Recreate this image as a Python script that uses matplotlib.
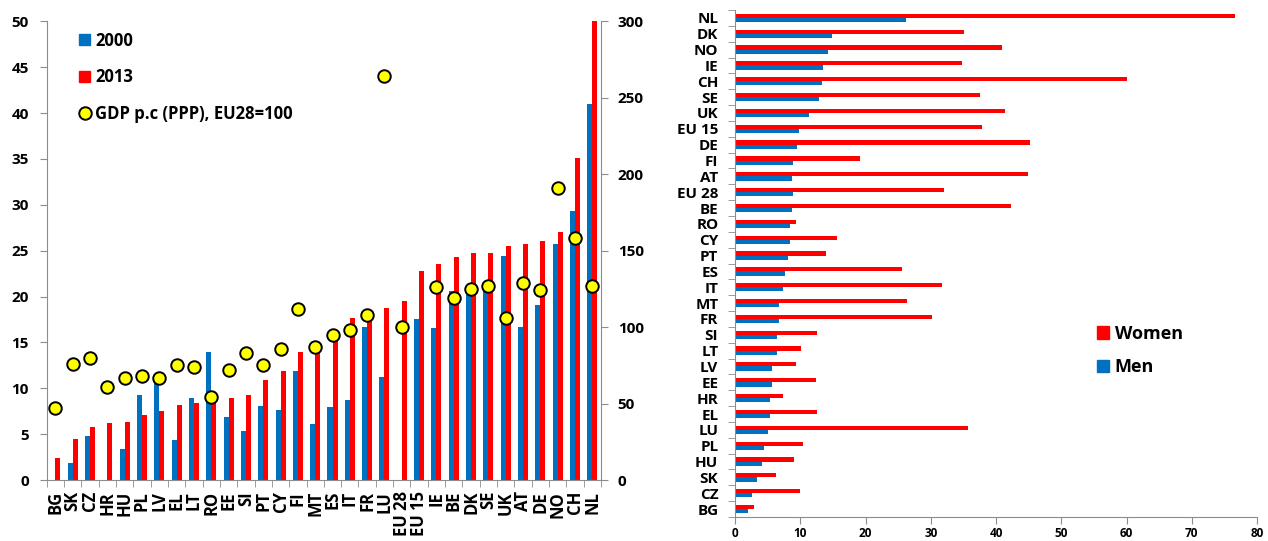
import numpy as np
import matplotlib
matplotlib.use("Agg")
import matplotlib.pyplot as plt
from matplotlib.patches import Patch
from matplotlib.lines import Line2D

plt.rcParams['font.family'] = ['Open Sans', 'DejaVu Sans']
plt.rcParams['font.weight'] = 'bold'

# ---- Left chart data ----
countries_left = ["BG", "SK", "CZ", "HR", "HU", "PL", "LV", "EL", "LT", "RO", "EE", "SI",
                  "PT", "CY", "FI", "MT", "ES", "IT", "FR", "LU", "EU 28", "EU 15", "IE",
                  "BE", "DK", "SE", "UK", "AT", "DE", "NO", "CH", "NL"]
values_2000 = [np.nan, 1.8, 4.8, np.nan, 3.4, 9.3, 10.7, 4.4, 8.9, 14.0, 6.9, 5.3,
               8.1, 7.6, 11.9, 6.1, 8.0, 8.7, 16.7, 11.2, np.nan, 17.5, 16.6,
               20.6, 21.0, 21.5, 24.4, 16.7, 19.1, 25.7, 29.3, 41.0]
values_2013 = [2.4, 4.5, 5.8, 6.2, 6.3, 7.1, 7.5, 8.2, 8.4, 8.7, 8.9, 9.3,
               10.9, 11.9, 14.0, 14.5, 15.6, 17.7, 17.9, 18.7, 19.5, 22.8, 23.5,
               24.3, 24.7, 24.7, 25.5, 25.7, 26.1, 27.0, 35.1, 50.0]
gdp_pc = [47, 76, 80, 61, 67, 68, 67, 75, 74, 54, 72, 83,
          75, 86, 112, 87, 95, 98, 108, 264, 100, np.nan, 126,
          119, 125, 127, 106, 129, 124, 191, 158, 127]

# ---- Right chart data (top to bottom) ----
countries_right = ["NL", "DK", "NO", "IE", "CH", "SE", "UK", "EU 15", "DE", "FI", "AT",
                   "EU 28", "BE", "RO", "CY", "PT", "ES", "IT", "MT", "FR", "SI", "LT",
                   "LV", "EE", "HR", "EL", "LU", "PL", "HU", "SK", "CZ", "BG"]
women = [76.6, 35.1, 40.9, 34.8, 60.0, 37.6, 41.4, 37.8, 45.2, 19.2, 44.9,
         32.1, 42.3, 9.3, 15.6, 13.9, 25.6, 31.7, 26.4, 30.2, 12.5, 10.1,
         9.3, 12.4, 7.3, 12.5, 35.7, 10.4, 9.0, 6.3, 10.0, 2.9]
men = [26.2, 14.8, 14.2, 13.5, 13.4, 12.8, 11.4, 9.8, 9.5, 8.9, 8.8,
       8.9, 8.7, 8.5, 8.5, 8.1, 7.7, 7.4, 6.7, 6.7, 6.5, 6.5,
       5.7, 5.6, 5.3, 5.3, 5.1, 4.5, 4.2, 3.4, 2.6, 2.0]

BLUE = "#0070C0"
RED = "#FF0000"
GREY = "#8C8C8C"

W, H = 1268, 541
fig = plt.figure(figsize=(W/100, H/100), dpi=100)

# ================= Left chart =================
L0, L1, T0, B0 = 46.7, 601.0, 21.4, 480.0
ax = fig.add_axes([L0/W, 1-B0/H, (L1-L0)/W, (B0-T0)/H])
n = len(countries_left)
x = np.arange(n)
bw = 0.29
ax.bar(x - bw/2, values_2000, width=bw, color=BLUE, label="2000", zorder=2)
ax.bar(x + bw/2, values_2013, width=bw, color=RED, label="2013", zorder=2)
ax.set_xlim(-0.5, n - 0.5)
ax.set_ylim(0, 50)
ax.set_yticks(np.arange(0, 51, 5))
ax.set_xticks(x)
ax.set_xticklabels(countries_left, rotation=90, fontsize=12, fontweight='bold')
ax.set_xticks(np.arange(-0.5, n, 1), minor=True)
ax.tick_params(axis='x', which='major', length=0, pad=8)
ax.tick_params(axis='x', which='minor', length=5, color=GREY)
ax.tick_params(axis='y', length=5, color=GREY, labelsize=11, pad=8)
for lab in ax.get_yticklabels():
    lab.set_fontweight('bold')
for s in ['top', 'right']:
    ax.spines[s].set_visible(False)
for s in ['left', 'bottom']:
    ax.spines[s].set_color(GREY)

ax2 = ax.twinx()
ax2.plot(x, gdp_pc, linestyle='none', marker='o', markersize=9,
         markerfacecolor='#FFFF00', markeredgecolor='black', markeredgewidth=1.4,
         label="GDP p.c (PPP), EU28=100", zorder=3)
ax2.set_ylim(0, 300)
ax2.set_yticks(np.arange(0, 301, 50))
ax2.tick_params(axis='y', length=5, color=GREY, labelsize=11, pad=7)
for lab in ax2.get_yticklabels():
    lab.set_fontweight('bold')
for s in ['top', 'left', 'bottom']:
    ax2.spines[s].set_visible(False)
ax2.spines['right'].set_color(GREY)

handles = [Patch(color=BLUE), Patch(color=RED),
           Line2D([], [], linestyle='none', marker='o', markersize=9,
                  markerfacecolor='#FFFF00', markeredgecolor='black', markeredgewidth=1.4)]
labels = ["2000", "2013", "GDP p.c (PPP), EU28=100"]
fig.legend(handles, labels, loc='upper left', bbox_to_anchor=(79/W, 1-31.5/H),
           bbox_transform=fig.transFigure, frameon=False,
           handlelength=0.68, handleheight=0.68, handletextpad=0.3,
           labelspacing=1.12, borderpad=0, borderaxespad=0,
           prop={'weight': 'bold', 'size': 12})

# ================= Right chart =================
R0, R1, RT, RB = 735.0, 1257.0, 10.0, 517.0
bx = fig.add_axes([R0/W, 1-RB/H, (R1-R0)/W, (RB-RT)/H])
m = len(countries_right)
y = np.arange(m)
bh = 0.265
bx.barh(y - bh/2, women, height=bh, color=RED, label="Women", zorder=2)
bx.barh(y + bh/2, men, height=bh, color=BLUE, label="Men", zorder=2)
bx.set_ylim(m - 0.5, -0.5)
bx.set_xlim(0, 80)
bx.set_xticks(np.arange(0, 81, 10))
bx.set_yticks(y)
bx.set_yticklabels(countries_right, fontsize=11, fontweight='bold')
bx.set_yticks(np.arange(-0.5, m, 1), minor=True)
bx.tick_params(axis='y', which='major', length=0, pad=12)
bx.tick_params(axis='y', which='minor', length=5, color=GREY)
bx.tick_params(axis='x', length=5, color=GREY, labelsize=8.5, pad=2)
for lab in bx.get_xticklabels():
    lab.set_fontweight('bold')
for s in ['top', 'right']:
    bx.spines[s].set_visible(False)
for s in ['left', 'bottom']:
    bx.spines[s].set_color(GREY)

rh = [Patch(color=RED), Patch(color=BLUE)]
fig.legend(rh, ["Women", "Men"], loc='center left', bbox_to_anchor=(1097/W, 1-350.5/H),
           bbox_transform=fig.transFigure, frameon=False,
           handlelength=0.65, handleheight=0.65, handletextpad=0.33,
           labelspacing=0.85, borderpad=0, borderaxespad=0,
           prop={'weight': 'bold', 'size': 13})

fig.savefig("out.png", dpi=100)
